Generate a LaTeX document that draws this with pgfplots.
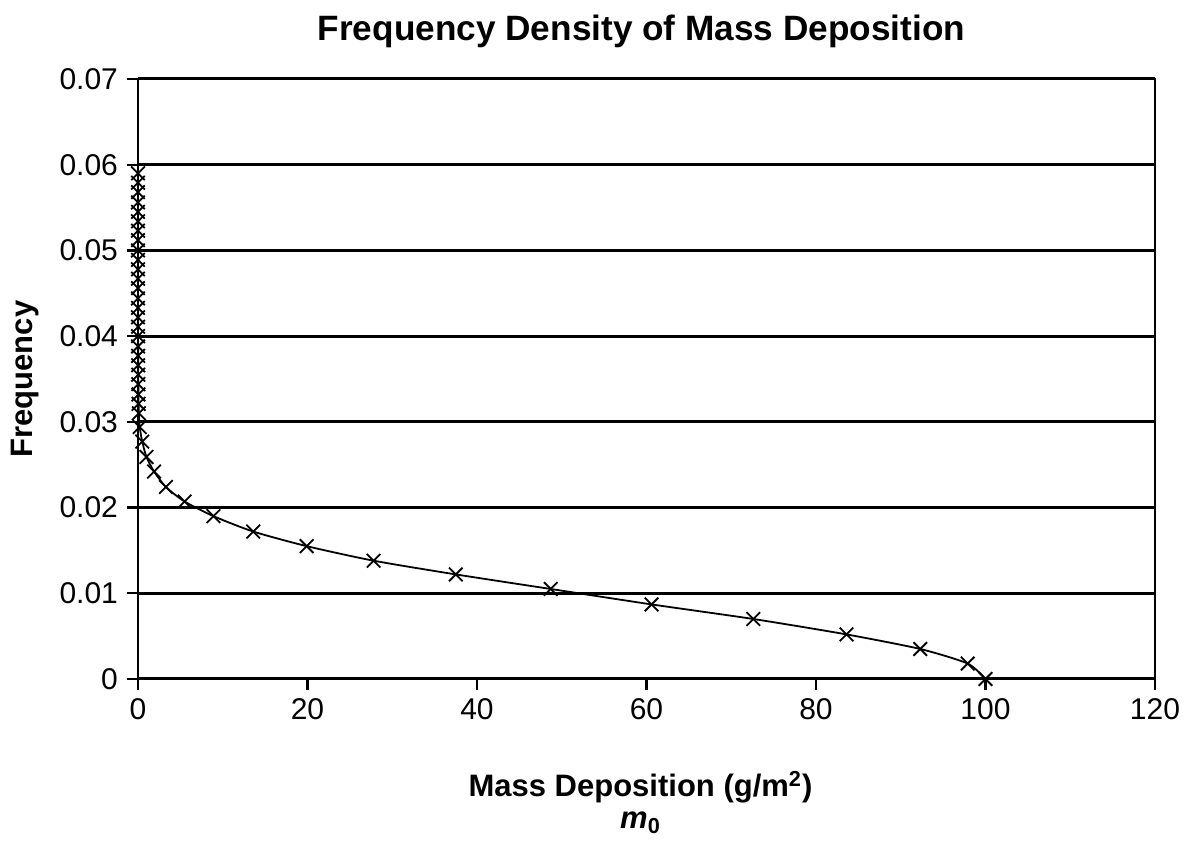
\documentclass[border=0pt]{standalone}
\usepackage{fontspec}
\setmainfont{Liberation Sans}
\usepackage{pgfplots}
\pgfplotsset{compat=1.18}

\begin{document}
\begin{tikzpicture}
\begin{axis}[
    name=ax,
    scale only axis,
    width=508.5pt, height=300pt,
    xmin=0, xmax=120, ymin=0, ymax=0.07,
    xtick={0,20,...,120},
    ytick={0,0.01,...,0.07},
    yticklabels={0,0.01,0.02,0.03,0.04,0.05,0.06,0.07},
    scaled y ticks=false,
    tick align=outside,
    xtick pos=bottom, ytick pos=left,
    major tick length=5.5pt,
    tick style={black, line width=1.2pt},
    axis line style={line width=1.4pt},
    ymajorgrids,
    grid style={black, line width=1.5pt},
    ticklabel style={font=\fontsize{15}{17}\selectfont},
    /pgf/number format/assume math mode=true,
    xticklabel style={yshift=-1pt},
    yticklabel style={xshift=-1pt},
]
\addplot[black, line width=0.9pt, smooth, tension=0.4,
    mark=x, mark size=4.8pt, mark options={line width=0.9pt}] coordinates {
    (100, 0)
    (97.9, 0.0018)
    (92.3, 0.0035)
    (83.6, 0.0052)
    (72.6, 0.0070)
    (60.6, 0.0087)
    (48.7, 0.0105)
    (37.5, 0.0122)
    (27.8, 0.0138)
    (19.9, 0.0155)
    (13.6, 0.0172)
    (8.9, 0.0190)
    (5.5, 0.0207)
    (3.3, 0.0224)
    (1.9, 0.0242)
    (1.0, 0.0259)
    (0.5, 0.0277)
    (0.2, 0.0294)
    (0.10, 0.0310)
    (0.07, 0.0321)
    (0.05, 0.0332)
    (0.04, 0.0344)
    (0.03, 0.0355)
    (0.02, 0.0366)
    (0.02, 0.0377)
    (0.01, 0.0388)
    (0.01, 0.0400)
    (0.01, 0.0411)
    (0.0, 0.0422)
    (0.0, 0.0433)
    (0.0, 0.0444)
    (0.0, 0.0456)
    (0.0, 0.0467)
    (0.0, 0.0478)
    (0.0, 0.0489)
    (0.0, 0.0500)
    (0.0, 0.0512)
    (0.0, 0.0523)
    (0.0, 0.0534)
    (0.0, 0.0545)
    (0.0, 0.0556)
    (0.0, 0.0568)
    (0.0, 0.0579)
    (0.0, 0.0590)
};
\end{axis}
\node[font=\bfseries\fontsize{17.6}{20}\selectfont] at ([xshift=-2.5pt,yshift=24pt]ax.north) {Frequency Density of Mass Deposition};
\node[font=\bfseries\fontsize{15.5}{18}\selectfont, rotate=90] at ([xshift=-56.5pt]ax.west) {Frequency};
\node[font=\bfseries\fontsize{15.5}{18}\selectfont] at ([xshift=-3pt,yshift=-54pt]ax.south) {Mass Deposition (g/m\textsuperscript{2})};
\node[font=\bfseries\fontsize{15.5}{18}\selectfont] at ([xshift=-3pt,yshift=-72pt]ax.south) {\textit{m}\textsubscript{0}};
\pgfresetboundingbox
\path ([xshift=-69pt,yshift=-81.5pt]ax.south west) rectangle ([xshift=17pt,yshift=39.5pt]ax.north east);
\end{tikzpicture}
\end{document}
